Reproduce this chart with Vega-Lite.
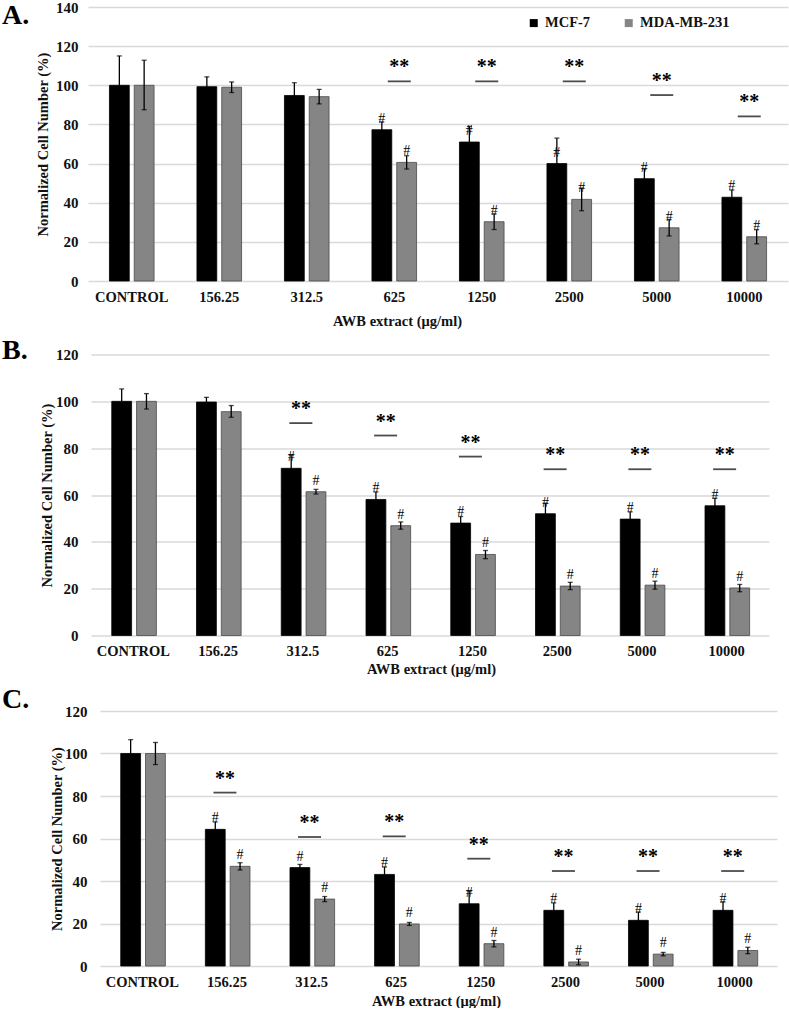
{
  "$schema": "https://vega.github.io/schema/vega-lite/v6.json",
  "padding": {"left": 2, "top": 0, "right": 0, "bottom": 0},
  "background": "white",
  "config": {
    "font": "Liberation Serif",
    "view": {"stroke": null},
    "axis": {"labelFont": "Liberation Serif", "labelFontWeight": "bold", "labelColor": "#111111", "titleFont": "Liberation Serif", "titleFontWeight": "bold", "titleColor": "#111111", "gridColor": "#d9d9d9", "gridWidth": 1.3, "domain": false, "ticks": false, "labelOverlap": false},
    "legend": {"orient": "none", "direction": "horizontal", "title": null, "labelFont": "Liberation Serif", "labelFontWeight": "bold", "labelFontSize": 14.5, "labelColor": "#111111", "symbolType": "square", "symbolSize": 64, "symbolStrokeWidth": 0, "labelOffset": 4},
    "title": {"font": "Liberation Serif", "fontSize": 28, "fontWeight": "bold", "anchor": "start", "frame": "group", "baseline": "bottom", "color": "#000000"}
  },
  "datasets": {
    "A": [
      {"conc": "CONTROL", "cell": "MCF-7", "value": 100, "lo": 85, "hi": 115, "hash": ""},
      {"conc": "156.25", "cell": "MCF-7", "value": 99.3, "lo": 94.3, "hi": 104.3, "hash": ""},
      {"conc": "312.5", "cell": "MCF-7", "value": 94.8, "lo": 88.3, "hi": 101.3, "hash": ""},
      {"conc": "625", "cell": "MCF-7", "value": 77.3, "lo": 73.3, "hi": 81.3, "hash": "#"},
      {"conc": "1250", "cell": "MCF-7", "value": 71, "lo": 63, "hi": 79, "hash": "#"},
      {"conc": "2500", "cell": "MCF-7", "value": 60, "lo": 47, "hi": 73, "hash": "#"},
      {"conc": "5000", "cell": "MCF-7", "value": 52.3, "lo": 47.3, "hi": 57.3, "hash": "#"},
      {"conc": "10000", "cell": "MCF-7", "value": 42.8, "lo": 39.1, "hi": 46.5, "hash": "#"},
      {"conc": "CONTROL", "cell": "MDA-MB-231", "value": 100, "lo": 87.5, "hi": 112.8, "hash": ""},
      {"conc": "156.25", "cell": "MDA-MB-231", "value": 99, "lo": 96.3, "hi": 101.7, "hash": ""},
      {"conc": "312.5", "cell": "MDA-MB-231", "value": 94.2, "lo": 90.5, "hi": 97.9, "hash": ""},
      {"conc": "625", "cell": "MDA-MB-231", "value": 60.6, "lo": 57.2, "hi": 64, "hash": "#"},
      {"conc": "1250", "cell": "MDA-MB-231", "value": 30.3, "lo": 26.3, "hi": 34.3, "hash": "#"},
      {"conc": "2500", "cell": "MDA-MB-231", "value": 41.7, "lo": 35.9, "hi": 47.5, "hash": "#"},
      {"conc": "5000", "cell": "MDA-MB-231", "value": 27.2, "lo": 23, "hi": 31.4, "hash": "#"},
      {"conc": "10000", "cell": "MDA-MB-231", "value": 22.6, "lo": 19, "hi": 26.2, "hash": "#"}
    ],
    "B": [
      {"conc": "CONTROL", "cell": "MCF-7", "value": 100, "lo": 94.7, "hi": 105.3, "hash": ""},
      {"conc": "156.25", "cell": "MCF-7", "value": 99.7, "lo": 97.7, "hi": 101.7, "hash": ""},
      {"conc": "312.5", "cell": "MCF-7", "value": 71.4, "lo": 65.8, "hi": 77, "hash": "#"},
      {"conc": "625", "cell": "MCF-7", "value": 58.1, "lo": 54.9, "hi": 61.3, "hash": "#"},
      {"conc": "1250", "cell": "MCF-7", "value": 48, "lo": 45.2, "hi": 50.8, "hash": "#"},
      {"conc": "2500", "cell": "MCF-7", "value": 52, "lo": 47.5, "hi": 56.5, "hash": "#"},
      {"conc": "5000", "cell": "MCF-7", "value": 49.7, "lo": 46.6, "hi": 52.8, "hash": "#"},
      {"conc": "10000", "cell": "MCF-7", "value": 55.4, "lo": 52.2, "hi": 58.6, "hash": "#"},
      {"conc": "CONTROL", "cell": "MDA-MB-231", "value": 100, "lo": 96.7, "hi": 103.3, "hash": ""},
      {"conc": "156.25", "cell": "MDA-MB-231", "value": 95.6, "lo": 93.2, "hi": 98.2, "hash": ""},
      {"conc": "312.5", "cell": "MDA-MB-231", "value": 61.4, "lo": 60.4, "hi": 62.4, "hash": "#"},
      {"conc": "625", "cell": "MDA-MB-231", "value": 46.9, "lo": 45.4, "hi": 48.5, "hash": "#"},
      {"conc": "1250", "cell": "MDA-MB-231", "value": 34.6, "lo": 32.8, "hi": 36.3, "hash": "#"},
      {"conc": "2500", "cell": "MDA-MB-231", "value": 21.1, "lo": 19.6, "hi": 22.7, "hash": "#"},
      {"conc": "5000", "cell": "MDA-MB-231", "value": 21.5, "lo": 19.8, "hi": 23.2, "hash": "#"},
      {"conc": "10000", "cell": "MDA-MB-231", "value": 20.3, "lo": 18.7, "hi": 21.8, "hash": "#"}
    ],
    "C": [
      {"conc": "CONTROL", "cell": "MCF-7", "value": 100, "lo": 93.5, "hi": 106.5, "hash": ""},
      {"conc": "156.25", "cell": "MCF-7", "value": 64.3, "lo": 60.8, "hi": 67.8, "hash": "#"},
      {"conc": "312.5", "cell": "MCF-7", "value": 46.3, "lo": 44.8, "hi": 47.8, "hash": "#"},
      {"conc": "625", "cell": "MCF-7", "value": 43.1, "lo": 39.6, "hi": 46.6, "hash": "#"},
      {"conc": "1250", "cell": "MCF-7", "value": 29.3, "lo": 23.3, "hi": 35.3, "hash": "#"},
      {"conc": "2500", "cell": "MCF-7", "value": 26.2, "lo": 22.7, "hi": 29.7, "hash": "#"},
      {"conc": "5000", "cell": "MCF-7", "value": 21.5, "lo": 17.6, "hi": 25.4, "hash": "#"},
      {"conc": "10000", "cell": "MCF-7", "value": 26.2, "lo": 22.2, "hi": 30.2, "hash": "#"},
      {"conc": "CONTROL", "cell": "MDA-MB-231", "value": 100, "lo": 94.8, "hi": 105.2, "hash": ""},
      {"conc": "156.25", "cell": "MDA-MB-231", "value": 46.9, "lo": 45.2, "hi": 48.6, "hash": "#"},
      {"conc": "312.5", "cell": "MDA-MB-231", "value": 31.5, "lo": 30.3, "hi": 32.7, "hash": "#"},
      {"conc": "625", "cell": "MDA-MB-231", "value": 19.8, "lo": 19.1, "hi": 20.5, "hash": "#"},
      {"conc": "1250", "cell": "MDA-MB-231", "value": 10.5, "lo": 9, "hi": 12, "hash": "#"},
      {"conc": "2500", "cell": "MDA-MB-231", "value": 1.9, "lo": 0.6, "hi": 3.2, "hash": "#"},
      {"conc": "5000", "cell": "MDA-MB-231", "value": 5.6, "lo": 4.8, "hi": 6.4, "hash": "#"},
      {"conc": "10000", "cell": "MDA-MB-231", "value": 7.3, "lo": 5.8, "hi": 8.8, "hash": "#"}
    ],
    "As": [
      {"conc": "625", "level": 102},
      {"conc": "1250", "level": 102},
      {"conc": "2500", "level": 102},
      {"conc": "5000", "level": 95},
      {"conc": "10000", "level": 84.1}
    ],
    "Bs": [
      {"conc": "312.5", "level": 90.7},
      {"conc": "625", "level": 85.4},
      {"conc": "1250", "level": 76.4},
      {"conc": "2500", "level": 71},
      {"conc": "5000", "level": 71},
      {"conc": "10000", "level": 71}
    ],
    "Cs": [
      {"conc": "156.25", "level": 81.6},
      {"conc": "312.5", "level": 60.7},
      {"conc": "625", "level": 61},
      {"conc": "1250", "level": 50.5},
      {"conc": "2500", "level": 44.7},
      {"conc": "5000", "level": 44.7},
      {"conc": "10000", "level": 44.7}
    ]
  },
  "spacing": 8.5,
  "vconcat": [
    {
      "width": 697,
      "height": 274,
      "title": {"text": "A.", "dx": -89, "offset": -30},
      "layer": [
        {
          "data": {"name": "A"},
          "mark": {"type": "bar", "strokeWidth": 0.8},
          "encoding": {
            "x": {"field": "conc", "type": "nominal", "scale": {"domain": ["CONTROL", "156.25", "312.5", "625", "1250", "2500", "5000", "10000"], "paddingInner": 0.49, "paddingOuter": 0.245, "range": [-3, 697]}, "axis": {"title": "AWB extract (μg/ml)", "labelAngle": 0, "labelFontSize": 14.5, "titleFontSize": 14.5, "labelPadding": 9, "titlePadding": 10.5, "grid": false, "titleX": 306}},
            "xOffset": {"field": "cell", "type": "nominal", "scale": {"paddingInner": 0.2}},
            "y": {"field": "value", "type": "quantitative", "scale": {"domain": [0, 140], "nice": false}, "axis": {"title": "Normalized Cell Number (%)", "values": [0, 20, 40, 60, 80, 100, 120, 140], "tickCount": 10, "labelFontSize": 15, "titleFontSize": 14.5, "labelPadding": 13, "titlePadding": 5, "grid": true}},
            "color": {"field": "cell", "type": "nominal", "scale": {"domain": ["MCF-7", "MDA-MB-231"], "range": ["#000000", "#858585"]}, "legend": {"legendX": 435.5, "legendY": 8.7, "columnPadding": 31}},
            "stroke": {"field": "cell", "type": "nominal", "scale": {"domain": ["MCF-7", "MDA-MB-231"], "range": ["#000000", "#4a4a4a"]}, "legend": null}
          }
        },
        {
          "data": {"name": "A"},
          "mark": {"type": "rule", "color": "#000000", "strokeWidth": 1.3},
          "encoding": {
            "x": {"field": "conc", "type": "nominal"},
            "xOffset": {"field": "cell", "type": "nominal"},
            "y": {"field": "lo", "type": "quantitative"},
            "y2": {"field": "hi"}
          }
        },
        {
          "data": {"name": "A"},
          "mark": {"type": "tick", "color": "#000000", "size": 5, "thickness": 1.3, "orient": "horizontal"},
          "encoding": {
            "x": {"field": "conc", "type": "nominal"},
            "xOffset": {"field": "cell", "type": "nominal"},
            "y": {"field": "hi", "type": "quantitative"}
          }
        },
        {
          "data": {"name": "A"},
          "mark": {"type": "tick", "color": "#000000", "size": 5, "thickness": 1.3, "orient": "horizontal"},
          "encoding": {
            "x": {"field": "conc", "type": "nominal"},
            "xOffset": {"field": "cell", "type": "nominal"},
            "y": {"field": "lo", "type": "quantitative"}
          }
        },
        {
          "data": {"name": "A"},
          "mark": {"type": "text", "fontSize": 14, "dy": -11, "baseline": "middle", "color": "#000000"},
          "encoding": {
            "x": {"field": "conc", "type": "nominal"},
            "xOffset": {"field": "cell", "type": "nominal"},
            "y": {"field": "value", "type": "quantitative"},
            "text": {"field": "hash"}
          }
        },
        {
          "data": {"name": "As"},
          "mark": {"type": "tick", "color": "#000000", "size": 23, "thickness": 1.8, "orient": "horizontal", "xOffset": 5},
          "encoding": {
            "x": {"field": "conc", "type": "nominal"},
            "y": {"field": "level", "type": "quantitative"}
          }
        },
        {
          "data": {"name": "As"},
          "mark": {"type": "text", "text": "**", "fontSize": 20, "fontWeight": "bold", "dy": -14, "dx": 5, "baseline": "middle", "color": "#000000"},
          "encoding": {
            "x": {"field": "conc", "type": "nominal"},
            "y": {"field": "level", "type": "quantitative"}
          }
        }
      ]
    },
    {
      "width": 678,
      "height": 281,
      "title": {"text": "B.", "dx": -89, "offset": -17.5},
      "layer": [
        {
          "data": {"name": "B"},
          "mark": {"type": "bar", "strokeWidth": 0.8},
          "encoding": {
            "x": {"field": "conc", "type": "nominal", "scale": {"domain": ["CONTROL", "156.25", "312.5", "625", "1250", "2500", "5000", "10000"], "paddingInner": 0.49, "paddingOuter": 0.245}, "axis": {"title": "AWB extract (μg/ml)", "labelAngle": 0, "labelFontSize": 14.5, "titleFontSize": 14.5, "labelPadding": 9, "titlePadding": 4.5, "grid": false, "titleX": 340}},
            "xOffset": {"field": "cell", "type": "nominal", "scale": {"paddingInner": 0.2}},
            "y": {"field": "value", "type": "quantitative", "scale": {"domain": [0, 120], "nice": false}, "axis": {"title": "Normalized Cell Number (%)", "values": [0, 20, 40, 60, 80, 100, 120], "tickCount": 10, "labelFontSize": 15, "titleFontSize": 14.5, "labelPadding": 13, "titlePadding": 1, "grid": true}},
            "color": {"field": "cell", "type": "nominal", "scale": {"domain": ["MCF-7", "MDA-MB-231"], "range": ["#000000", "#858585"]}, "legend": {"legendX": 453.7, "legendY": 8, "columnPadding": 27}},
            "stroke": {"field": "cell", "type": "nominal", "scale": {"domain": ["MCF-7", "MDA-MB-231"], "range": ["#000000", "#4a4a4a"]}, "legend": null}
          }
        },
        {
          "data": {"name": "B"},
          "mark": {"type": "rule", "color": "#000000", "strokeWidth": 1.3},
          "encoding": {
            "x": {"field": "conc", "type": "nominal"},
            "xOffset": {"field": "cell", "type": "nominal"},
            "y": {"field": "lo", "type": "quantitative"},
            "y2": {"field": "hi"}
          }
        },
        {
          "data": {"name": "B"},
          "mark": {"type": "tick", "color": "#000000", "size": 5, "thickness": 1.3, "orient": "horizontal"},
          "encoding": {
            "x": {"field": "conc", "type": "nominal"},
            "xOffset": {"field": "cell", "type": "nominal"},
            "y": {"field": "hi", "type": "quantitative"}
          }
        },
        {
          "data": {"name": "B"},
          "mark": {"type": "tick", "color": "#000000", "size": 5, "thickness": 1.3, "orient": "horizontal"},
          "encoding": {
            "x": {"field": "conc", "type": "nominal"},
            "xOffset": {"field": "cell", "type": "nominal"},
            "y": {"field": "lo", "type": "quantitative"}
          }
        },
        {
          "data": {"name": "B"},
          "mark": {"type": "text", "fontSize": 14, "dy": -11, "baseline": "middle", "color": "#000000"},
          "encoding": {
            "x": {"field": "conc", "type": "nominal"},
            "xOffset": {"field": "cell", "type": "nominal"},
            "y": {"field": "value", "type": "quantitative"},
            "text": {"field": "hash"}
          }
        },
        {
          "data": {"name": "Bs"},
          "mark": {"type": "tick", "color": "#000000", "size": 23, "thickness": 1.8, "orient": "horizontal", "xOffset": -2},
          "encoding": {
            "x": {"field": "conc", "type": "nominal"},
            "y": {"field": "level", "type": "quantitative"}
          }
        },
        {
          "data": {"name": "Bs"},
          "mark": {"type": "text", "text": "**", "fontSize": 20, "fontWeight": "bold", "dy": -14, "dx": -2, "baseline": "middle", "color": "#000000"},
          "encoding": {
            "x": {"field": "conc", "type": "nominal"},
            "y": {"field": "level", "type": "quantitative"}
          }
        }
      ]
    },
    {
      "width": 686,
      "height": 255,
      "title": {"text": "C.", "dx": -89, "offset": -9.5},
      "layer": [
        {
          "data": {"name": "C"},
          "mark": {"type": "bar", "strokeWidth": 0.8},
          "encoding": {
            "x": {"field": "conc", "type": "nominal", "scale": {"domain": ["CONTROL", "156.25", "312.5", "625", "1250", "2500", "5000", "10000"], "paddingInner": 0.49, "paddingOuter": 0.245, "range": [9, 686]}, "axis": {"title": "AWB extract (μg/ml)", "labelAngle": 0, "labelFontSize": 14.5, "titleFontSize": 14.5, "labelPadding": 9, "titlePadding": 6, "grid": false, "titleX": 345}},
            "xOffset": {"field": "cell", "type": "nominal", "scale": {"paddingInner": 0.2}},
            "y": {"field": "value", "type": "quantitative", "scale": {"domain": [0, 120], "nice": false}, "axis": {"title": "Normalized Cell Number (%)", "values": [0, 20, 40, 60, 80, 100, 120], "tickCount": 10, "labelFontSize": 15, "titleFontSize": 14.5, "labelPadding": 4, "titlePadding": 0, "grid": true}},
            "color": {"field": "cell", "type": "nominal", "scale": {"domain": ["MCF-7", "MDA-MB-231"], "range": ["#000000", "#858585"]}, "legend": {"legendX": 460, "legendY": 8, "columnPadding": 19}},
            "stroke": {"field": "cell", "type": "nominal", "scale": {"domain": ["MCF-7", "MDA-MB-231"], "range": ["#000000", "#4a4a4a"]}, "legend": null}
          }
        },
        {
          "data": {"name": "C"},
          "mark": {"type": "rule", "color": "#000000", "strokeWidth": 1.3},
          "encoding": {
            "x": {"field": "conc", "type": "nominal"},
            "xOffset": {"field": "cell", "type": "nominal"},
            "y": {"field": "lo", "type": "quantitative"},
            "y2": {"field": "hi"}
          }
        },
        {
          "data": {"name": "C"},
          "mark": {"type": "tick", "color": "#000000", "size": 5, "thickness": 1.3, "orient": "horizontal"},
          "encoding": {
            "x": {"field": "conc", "type": "nominal"},
            "xOffset": {"field": "cell", "type": "nominal"},
            "y": {"field": "hi", "type": "quantitative"}
          }
        },
        {
          "data": {"name": "C"},
          "mark": {"type": "tick", "color": "#000000", "size": 5, "thickness": 1.3, "orient": "horizontal"},
          "encoding": {
            "x": {"field": "conc", "type": "nominal"},
            "xOffset": {"field": "cell", "type": "nominal"},
            "y": {"field": "lo", "type": "quantitative"}
          }
        },
        {
          "data": {"name": "C"},
          "mark": {"type": "text", "fontSize": 14, "dy": -11, "baseline": "middle", "color": "#000000"},
          "encoding": {
            "x": {"field": "conc", "type": "nominal"},
            "xOffset": {"field": "cell", "type": "nominal"},
            "y": {"field": "value", "type": "quantitative"},
            "text": {"field": "hash"}
          }
        },
        {
          "data": {"name": "Cs"},
          "mark": {"type": "tick", "color": "#000000", "size": 23, "thickness": 1.8, "orient": "horizontal", "xOffset": -2},
          "encoding": {
            "x": {"field": "conc", "type": "nominal"},
            "y": {"field": "level", "type": "quantitative"}
          }
        },
        {
          "data": {"name": "Cs"},
          "mark": {"type": "text", "text": "**", "fontSize": 20, "fontWeight": "bold", "dy": -14, "dx": -2, "baseline": "middle", "color": "#000000"},
          "encoding": {
            "x": {"field": "conc", "type": "nominal"},
            "y": {"field": "level", "type": "quantitative"}
          }
        }
      ]
    }
  ]
}
